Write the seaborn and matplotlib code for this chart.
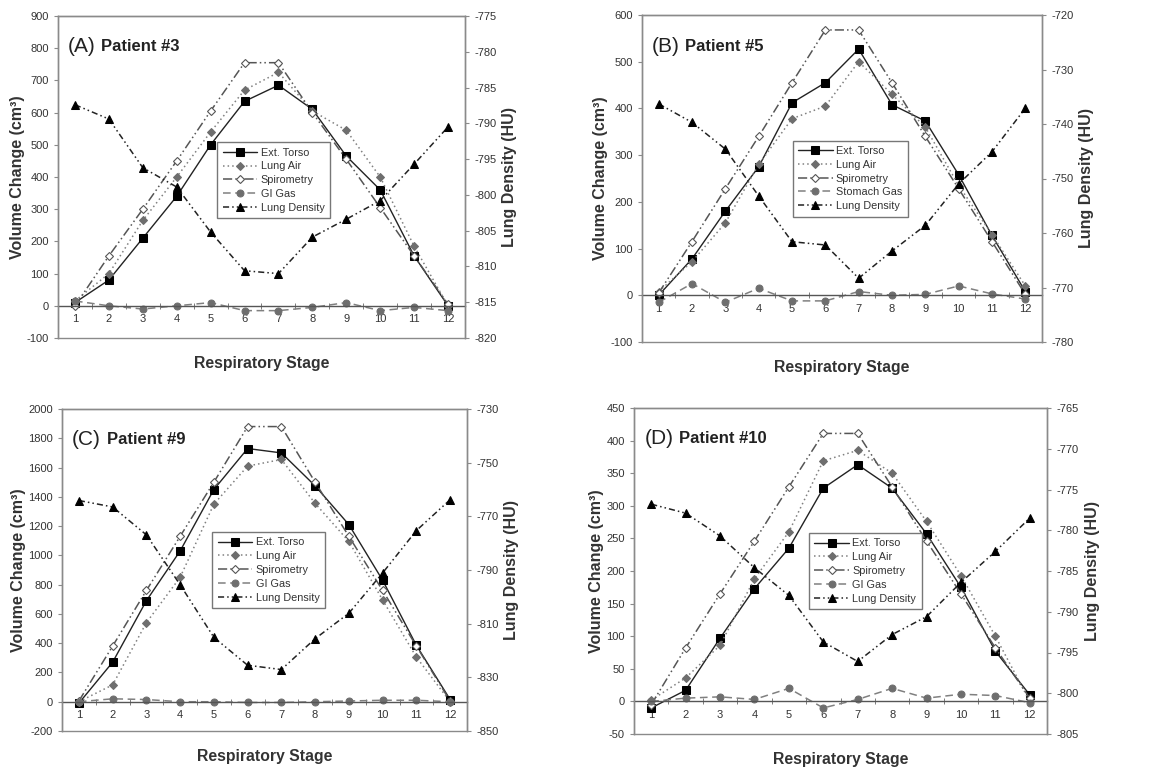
import pandas as pd
import numpy as np
import matplotlib
matplotlib.use("Agg")
import matplotlib.pyplot as plt
import seaborn as sns

stages = list(range(1, 13))

# Patient #3
p3_torso = [10, 80, 210, 340, 500, 635, 685, 610, 465, 360, 155, 0]
p3_lung_air = [15, 100, 265, 400, 540, 670, 725, 605, 545, 400, 185, 0]
p3_spiro = [0, 155, 300, 450, 605, 755, 755, 600, 455, 305, 155, 5]
p3_gi = [15, 0, -10, 0, 10, -15, -15, -5, 10, -15, -5, -15]
p3_density = [-787.4, -789.4, -796.2, -798.9, -805.2, -810.6, -811.0, -805.9, -803.4, -800.8, -795.7, -790.5]

# Patient #5
p5_torso = [0, 78, 180, 275, 412, 455, 527, 408, 373, 258, 128, 8]
p5_lung_air = [8, 72, 155, 280, 378, 405, 500, 430, 360, 235, 130, 20]
p5_spiro = [5, 115, 228, 340, 455, 568, 568, 455, 340, 228, 115, 2]
p5_gi = [-15, 25, -15, 15, -12, -12, 8, 0, 2, 20, 3, -8]
p5_density = [-736.3, -739.7, -744.6, -753.2, -761.6, -762.2, -768.3, -763.3, -758.6, -751.0, -745.1, -737.1]

# Patient #9
p9_torso = [-10, 270, 690, 1030, 1450, 1730, 1700, 1475, 1210, 830, 385, 15]
p9_lung_air = [0, 115, 540, 850, 1350, 1610, 1655, 1355, 1095, 695, 305, 0]
p9_spiro = [5, 380, 760, 1130, 1500, 1880, 1880, 1500, 1130, 760, 380, 5]
p9_gi = [0, 20, 15, 0, 0, -5, -5, 0, 5, 10, 10, 0]
p9_density = [-764.1, -766.5, -776.9, -795.5, -815.1, -825.5, -827.1, -815.6, -806.1, -791.1, -775.3, -763.8]

# Patient #10
p10_torso = [-10, 17, 97, 173, 235, 327, 363, 327, 257, 175, 77, 10]
p10_lung_air = [2, 36, 86, 188, 260, 369, 385, 350, 276, 193, 100, 0]
p10_spiro = [-5, 82, 165, 246, 329, 411, 411, 329, 246, 165, 82, 5]
p10_gi = [0, 5, 7, 3, 20, -10, 3, 20, 5, 11, 9, -2]
p10_density = [-776.8, -777.9, -780.7, -784.6, -788.0, -793.7, -796.1, -792.8, -790.6, -786.4, -782.6, -778.5]

W, H = 1168, 768

sns.set_style("ticks")
plt.rcParams['font.family'] = ['Liberation Sans', 'DejaVu Sans']
plt.rcParams['axes.unicode_minus'] = False

SPINE = '#8a8a8a'
TXT = '#333333'


def draw_panel(fig, box, tag, patient, torso, lung_air, spiro, gi, density, gi_label,
               vol_ticks, hu_ticks, leg_xy, ylab_x):
    l, t, r, b = box
    ax = fig.add_axes([l / W, 1 - b / H, (r - l) / W, (b - t) / H])
    ax2 = ax.twinx()

    df = pd.DataFrame({"stage": stages, "torso": torso, "lung_air": lung_air,
                       "spiro": spiro, "gi": gi, "density": density})

    sns.lineplot(data=df, x="stage", y="torso", ax=ax, label="Ext. Torso", color='#222222',
                 marker='s', markersize=6, linewidth=1.0, markerfacecolor='black',
                 markeredgecolor='black')
    sns.lineplot(data=df, x="stage", y="lung_air", ax=ax, label="Lung Air", color='#808080',
                 marker='D', markersize=4.5, linewidth=1.1, linestyle=(0, (1, 2)),
                 markerfacecolor='#6e6e6e', markeredgecolor='#6e6e6e')
    sns.lineplot(data=df, x="stage", y="spiro", ax=ax, label="Spirometry", color='#555555',
                 marker='D', markersize=4.5, linewidth=1.1, linestyle=(0, (6, 2, 1, 2, 1, 2)),
                 markerfacecolor='white', markeredgecolor='#555555', markeredgewidth=0.8)
    sns.lineplot(data=df, x="stage", y="gi", ax=ax, label=gi_label, color='#808080',
                 marker='o', markersize=5, linewidth=1.1, linestyle=(0, (5, 3)),
                 markerfacecolor='#6e6e6e', markeredgecolor='#6e6e6e')
    sns.lineplot(data=df, x="stage", y="density", ax=ax2, label="Lung Density", color='#222222',
                 marker='^', markersize=6, linewidth=1.1, linestyle=(0, (4, 2, 1, 2, 1, 2)),
                 markerfacecolor='black', markeredgecolor='black')

    h1, l1 = ax.get_legend_handles_labels()
    h2, l2 = ax2.get_legend_handles_labels()
    if ax.get_legend():
        ax.get_legend().remove()
    leg = ax2.legend(h1 + h2, l1 + l2, loc='center', bbox_to_anchor=leg_xy, fontsize=7.8,
                     frameon=True, fancybox=False, edgecolor='#777777', framealpha=1,
                     handlelength=3.2, borderpad=0.5, labelspacing=0.35, handletextpad=0.3)
    leg.get_frame().set_linewidth(1.0)
    for txt in leg.get_texts():
        txt.set_color(TXT)

    ax.set_xlim(0.5, 12.5)
    ax.set_ylim(vol_ticks[0], vol_ticks[-1])
    ax.set_yticks(vol_ticks)
    ax2.set_ylim(hu_ticks[0], hu_ticks[-1])
    ax2.set_yticks(hu_ticks)

    # category axis drawn through zero
    ax.spines['bottom'].set_position(('data', 0))
    ax.set_xticks(stages)
    ax.set_xticks([s + 0.5 for s in stages[:-1]], minor=True)
    ax.tick_params(axis='x', which='major', length=0, pad=6, labelsize=8, labelcolor=TXT)
    ax.tick_params(axis='x', which='minor', length=5, direction='inout', color='#666666')
    ax.tick_params(axis='y', length=3, width=0.8, color=SPINE, labelsize=8, labelcolor=TXT)
    ax2.tick_params(axis='y', length=3, width=0.8, color=SPINE, labelsize=8, labelcolor=TXT)
    ax2.tick_params(axis='x', length=0, labelbottom=False)

    for name in ['left', 'top', 'right']:
        ax.spines[name].set_color(SPINE)
        ax2.spines[name].set_color(SPINE)
    ax.spines['bottom'].set_color('#555555')
    ax2.spines['bottom'].set_color(SPINE)
    for sp in list(ax.spines.values()) + list(ax2.spines.values()):
        sp.set_linewidth(1.0)

    ax.set_xlabel("Respiratory Stage", fontsize=11.3, fontweight='bold', color=TXT)
    ax.xaxis.set_label_coords(0.5, -0.055)
    ax.set_ylabel("Volume Change (cm³)", fontsize=11.5, fontweight='bold', color=TXT)
    ax.yaxis.set_label_coords(ylab_x, 0.5)
    ax2.set_ylabel("Lung Density (HU)", fontsize=11.5, fontweight='bold', color=TXT)
    ax2.yaxis.set_label_coords(1.092, 0.5)

    t1 = ax.text(0.025, 0.905, f"({tag})", transform=ax.transAxes, fontsize=15,
                 va='center', ha='left', color='#222222')
    ax.annotate(patient, xy=(1, 0.5), xycoords=t1, xytext=(4, 0), textcoords='offset points',
                fontsize=12, fontweight='bold', va='center', ha='left', color='#222222')
    return ax


fig = plt.figure(figsize=(W / 100, H / 100), dpi=100)

draw_panel(fig, (58, 16, 465, 338), "A", "Patient #3", p3_torso, p3_lung_air, p3_spiro, p3_gi,
           p3_density, "GI Gas", list(range(-100, 901, 100)), list(range(-820, -774, 5)),
           (0.53, 0.49), -0.08)
draw_panel(fig, (642, 15, 1042, 342), "B", "Patient #5", p5_torso, p5_lung_air, p5_spiro, p5_gi,
           p5_density, "Stomach Gas", list(range(-100, 601, 100)), list(range(-780, -719, 10)),
           (0.52, 0.50), -0.085)
draw_panel(fig, (62, 409, 467, 731), "C", "Patient #9", p9_torso, p9_lung_air, p9_spiro, p9_gi,
           p9_density, "GI Gas", list(range(-200, 2001, 200)), list(range(-850, -729, 20)),
           (0.51, 0.50), -0.09)
draw_panel(fig, (634, 408, 1047, 734), "D", "Patient #10", p10_torso, p10_lung_air, p10_spiro,
           p10_gi, p10_density, "GI Gas", list(range(-50, 451, 50)), list(range(-805, -764, 5)),
           (0.56, 0.50), -0.072)

fig.savefig("out.png", dpi=100, facecolor='white')
